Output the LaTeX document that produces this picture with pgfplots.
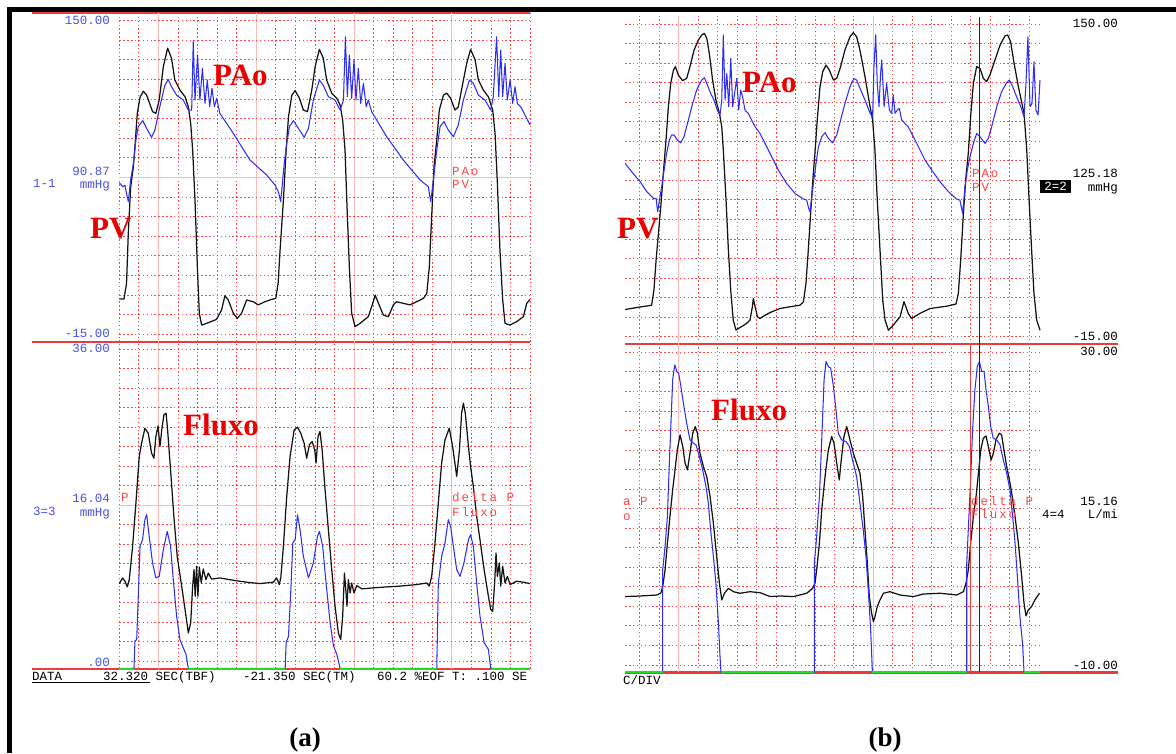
\documentclass[border=0pt]{standalone}
\usepackage{fontspec}
\setmainfont{Liberation Serif}
\setmonofont{Liberation Mono}
\newfontfamily\lcd{Liberation Mono}
\newfontfamily\redlcd[LetterSpace=15]{Liberation Mono}
\usepackage{pgfplots}
\pgfplotsset{compat=1.18}

\definecolor{gridred}{RGB}{255,70,70}
\definecolor{gridpink}{RGB}{255,185,185}
\definecolor{framered}{RGB}{235,60,60}
\definecolor{tracegreen}{RGB}{40,215,40}
\definecolor{traceblue}{RGB}{45,45,245}
\definecolor{labelblue}{RGB}{70,80,235}
\definecolor{bigred}{RGB}{235,0,0}

\pgfplotsset{
  osc/.style={
    scale only axis,
    anchor=south west,
    axis line style={draw=none},
    clip=false,
    grid=both,
    major tick length=0pt, minor tick length=0pt,
    xticklabels={}, yticklabels={},
    major grid style={line width=0.9pt, color=gridpink},
    minor grid style={line width=0.8pt, color=gridred, dash pattern=on 1.5pt off 2.4pt},
  },
  pv/.style={black!92, line width=1.25pt, line join=round},
  ao/.style={traceblue, line width=1.05pt, line join=round},
  zero/.style={tracegreen, line width=2.2pt},
}

\begin{document}
\begin{tikzpicture}
\useasboundingbox (0pt,0pt) rectangle (1176pt,753pt);

% frame
\fill[black] (7pt,741.3pt) rectangle (1176pt,745.7pt);
\fill[black] (7.3pt,0pt) rectangle (11.7pt,745.7pt);

% red frame lines
\draw[framered, line width=2pt] (32pt,740pt) -- (530pt,740pt);
\draw[framered, line width=2pt] (32pt,411pt) -- (530pt,411pt);
\draw[framered, line width=2.5pt] (32pt,84pt) -- (530pt,84pt);
\draw[framered, line width=2pt] (625pt,408.5pt) -- (1118pt,408.5pt);
\draw[framered, line width=2.5pt] (625pt,80.7pt) -- (1118pt,80.7pt);

% ---------- (a) pressure ----------
\begin{axis}[osc, at={(119.3pt,411.06pt)}, width=410.76pt, height=328.9pt,
  xmin=0, xmax=21, ymin=-0.39, ymax=16.39,
  xtick={2,7,12,17}, minor xtick={0,1,3,4,5,6,8,9,10,11,13,14,15,16,18,19,20,21},
  ytick={8}, minor ytick={0,1,2,3,4,5,6,7,9,10,11,12,13,14,15,16}]
\addplot[pv] coordinates {
(0,1.8) (0.24,1.8) (0.37,2.6) (0.46,5.15) (0.58,7.5) (0.72,8.55) (0.8,9.57) (0.92,11.27) (1.06,12.1) (1.23,12.4) (1.4,12.2) (1.7,11.36) (1.87,11.27) (2.04,11.95) (2.25,13.65) (2.47,14.6) (2.67,14.08) (2.84,12.97) (3.1,12.46) (3.36,12.12) (3.53,11.6) (3.65,10.76) (3.75,9.4) (3.87,6.85) (3.99,3.45) (4.09,1.07) (4.21,0.47) (4.47,0.56) (4.97,0.76) (5.23,1.24) (5.4,1.97) (5.57,1.75) (5.83,1.07) (6.03,0.81) (6.25,1.07) (6.51,1.75) (6.85,1.66) (7.1,1.5) (7.44,1.66) (7.78,1.78) (8.0,1.83) (8.12,2.6) (8.22,4.3) (8.39,6.85) (8.53,9.4) (8.65,11.1) (8.82,12.2) (8.99,12.43) (9.21,12.04) (9.41,11.44) (9.62,11.36) (9.84,12.46) (10.01,13.65) (10.23,14.54) (10.43,14.08) (10.6,12.97) (10.86,12.3) (11.12,12.04) (11.29,11.7) (11.42,10.93) (11.54,9.4) (11.63,6.85) (11.76,3.45) (11.88,1.07) (12.05,0.39) (12.31,0.56) (12.73,0.9) (12.96,1.58) (13.08,2.0) (13.25,1.58) (13.5,0.98) (13.76,0.9) (14.01,1.5) (14.18,1.66) (14.52,1.58) (14.86,1.5) (15.2,1.66) (15.55,1.83) (15.72,2.09) (15.85,3.45) (15.97,6.0) (16.09,8.55) (16.23,9.91) (16.36,11.44) (16.57,12.2) (16.74,12.3) (16.94,12.04) (17.16,11.44) (17.33,11.6) (17.56,12.8) (17.76,13.82) (17.96,14.54) (18.19,14.0) (18.36,12.97) (18.61,12.46) (18.87,12.12) (19.09,11.44) (19.21,10.25) (19.33,7.7) (19.46,4.3) (19.6,1.75) (19.72,0.56) (19.97,0.47) (20.31,0.64) (20.66,0.9) (20.83,1.58) (21.0,1.78)};
\addplot[ao] coordinates {
(0,7.74) (0.17,7.53) (0.29,7.6) (0.37,7.19) (0.46,6.77) (0.58,7.87) (0.72,8.72) (0.85,9.9) (0.97,10.6) (1.2,10.9) (1.4,10.5) (1.65,10.05) (1.82,10.42) (2.07,11.6) (2.33,12.7) (2.5,13.0) (2.67,12.63) (2.93,12.2) (3.27,11.95) (3.53,11.44) (3.70,11.44) (3.78,14.93) (3.87,11.95) (4.0,14.25) (4.12,11.95) (4.25,13.57) (4.38,11.78) (4.5,12.97) (4.62,11.61) (4.74,12.55) (4.86,11.61) (4.98,12.04) (5.14,11.27) (5.49,10.76) (5.83,10.25) (6.68,8.89) (7.53,8.13) (7.96,7.62) (8.13,7.28) (8.25,6.77) (8.33,7.6) (8.42,8.6) (8.56,9.74) (8.7,10.6) (8.9,10.9) (9.16,10.5) (9.45,10.05) (9.67,10.5) (9.92,11.95) (10.23,12.97) (10.43,12.7) (10.69,12.12) (11.03,11.95) (11.29,11.44) (11.46,11.95) (11.56,15.18) (11.66,12.12) (11.76,14.25) (11.88,12.04) (12.0,13.99) (12.1,11.95) (12.22,13.57) (12.34,11.78) (12.48,12.8) (12.62,11.61) (12.73,11.95) (12.9,11.36) (13.16,10.93) (13.67,10.08) (14.52,8.89) (15.38,7.87) (15.8,7.53) (15.92,6.77) (16.06,7.87) (16.23,9.4) (16.4,10.6) (16.6,10.85) (16.82,10.42) (17.08,10.08) (17.33,10.68) (17.59,11.95) (17.9,12.97) (18.1,12.8) (18.36,12.2) (18.7,11.95) (18.99,11.44) (19.12,12.12) (19.29,15.18) (19.4,12.12) (19.5,14.5) (19.6,12.12) (19.72,13.82) (19.84,11.95) (19.98,12.97) (20.11,11.78) (20.23,12.63) (20.35,11.78) (20.52,11.61) (20.74,11.19) (21.0,10.68)};
\end{axis}

% ---------- (a) flow ----------
\begin{axis}[osc, at={(119.3pt,84pt)}, width=410.76pt, height=327pt,
  xmin=0, xmax=21, ymin=-0.41, ymax=16.36,
  xtick={2,7,12,17}, minor xtick={0,1,3,4,5,6,8,9,10,11,13,14,15,16,18,19,20,21},
  ytick={8}, minor ytick={0,1,2,3,4,5,6,7,9,10,11,12,13,14,15,16}]
\addplot[pv] coordinates {
(0,3.97) (0.17,4.26) (0.29,4.09) (0.41,3.8) (0.51,4.17) (0.68,5.88) (0.85,8.1) (1.02,10.49) (1.14,11.17) (1.31,11.94) (1.48,11.68) (1.65,10.66) (1.77,10.4) (1.87,11.51) (1.98,12.06) (2.08,11.0) (2.18,11.94) (2.28,12.62) (2.39,12.71) (2.47,11.85) (2.62,9.81) (2.79,7.42) (2.96,5.37) (3.19,3.83) (3.41,2.3) (3.53,1.44) (3.65,1.96) (3.75,3.83) (3.82,4.69) (3.88,3.32) (3.95,4.86) (4.02,3.32) (4.09,4.82) (4.19,4.0) (4.29,4.72) (4.43,4.17) (4.55,4.51) (4.72,4.2) (5.14,4.26) (5.83,4.14) (6.51,4.04) (7.19,3.97) (7.87,4.04) (8.04,4.26) (8.18,3.92) (8.26,4.3) (8.39,5.88) (8.56,8.44) (8.73,10.49) (8.94,11.85) (9.11,11.99) (9.28,11.68) (9.45,11.17) (9.58,10.4) (9.72,11.09) (9.86,11.26) (9.99,10.83) (10.06,10.15) (10.16,11.51) (10.26,11.77) (10.37,10.83) (10.52,8.78) (10.69,6.73) (10.86,4.69) (11.03,2.81) (11.2,1.44) (11.32,1.1) (11.42,2.3) (11.51,4.51) (11.58,3.66) (11.64,2.81) (11.71,4.17) (11.8,3.49) (11.88,4.0) (12.0,3.49) (12.14,3.87) (12.39,3.7) (12.99,3.75) (13.67,3.8) (14.35,3.84) (15.2,3.92) (15.72,4.0) (15.85,3.84) (15.97,4.34) (16.14,6.05) (16.31,8.1) (16.48,10.15) (16.65,11.34) (16.87,11.94) (17.04,11.0) (17.25,9.47) (17.39,10.83) (17.5,12.71) (17.59,13.22) (17.69,12.71) (17.85,11.0) (17.96,9.98) (18.1,8.95) (18.27,7.42) (18.44,6.22) (18.65,4.69) (18.87,3.32) (18.99,2.64) (19.09,2.55) (19.19,4.0) (19.26,5.54) (19.33,4.34) (19.43,5.03) (19.5,3.84) (19.6,4.86) (19.72,4.0) (19.84,4.34) (19.98,3.92) (20.31,4.09) (20.66,4.04) (21.0,3.97)};
\addplot[ao] coordinates {
(0,-0.38) (0.75,-0.38) (0.8,1.02) (0.89,1.1) (0.97,3.32) (1.06,5.88) (1.19,6.22) (1.31,7.25) (1.4,7.5) (1.53,6.39) (1.7,5.03) (1.87,4.26) (2.04,4.34) (2.25,5.71) (2.45,6.65) (2.62,5.88) (2.76,4.17) (2.93,2.3) (3.1,1.1) (3.27,0.68) (3.41,0.34) (3.53,-0.38) (8.48,-0.38) (8.53,0.94) (8.65,1.27) (8.77,3.66) (8.87,6.05) (8.99,6.22) (9.11,7.5) (9.24,6.73) (9.41,5.37) (9.67,4.26) (9.92,5.03) (10.13,6.39) (10.23,6.65) (10.4,5.88) (10.57,4.0) (10.78,1.96) (10.95,0.77) (11.12,0.34) (11.29,-0.38) (16.23,-0.38) (16.31,4.0) (16.48,5.37) (16.65,6.05) (16.82,7.25) (16.94,6.9) (17.08,5.88) (17.25,4.69) (17.42,4.34) (17.62,5.03) (17.85,6.22) (17.96,6.48) (18.1,5.88) (18.27,4.0) (18.44,2.3) (18.65,0.94) (18.87,0.6) (18.99,-0.38) (21,-0.38)};
\addplot[zero] coordinates {(0,-0.41) (0.75,-0.41)};
\addplot[zero] coordinates {(3.53,-0.41) (8.48,-0.41)};
\addplot[zero] coordinates {(11.29,-0.41) (16.23,-0.41)};
\addplot[zero] coordinates {(18.99,-0.41) (21,-0.41)};
\end{axis}

% ---------- (b) pressure ----------
\begin{axis}[osc, at={(625.1pt,408.7pt)}, width=414.9pt, height=328.1pt,
  xmin=-0.74, xmax=20.55, ymin=-0.39, ymax=16.4,
  xtick={2,12}, minor xtick={0,1,3,4,5,6,7,8,9,10,11,13,14,15,16,17,18,19,20},
  ytick={8}, minor ytick={0,1,2,3,4,5,6,7,9,10,11,12,13,14,15,16},
  major y grid style={line width=0.8pt, color=gridred, dash pattern=on 1.5pt off 2.4pt}]
\addplot[pv] coordinates {
(-0.74,1.39) (-0.15,1.49) (0.62,1.61) (0.74,2.38) (0.85,3.92) (0.97,5.28) (1.09,6.65) (1.22,8.35) (1.36,10.06) (1.48,11.77) (1.6,12.96) (1.74,13.64) (1.84,13.82) (1.99,13.39) (2.21,13.1) (2.42,13.22) (2.59,13.82) (2.8,14.67) (3.02,15.18) (3.19,15.44) (3.33,15.52) (3.45,15.27) (3.58,14.5) (3.75,13.13) (3.92,12.11) (4.1,11.43) (4.22,10.74) (4.3,9.55) (4.44,6.99) (4.56,4.43) (4.68,2.38) (4.81,0.85) (4.95,0.34) (5.16,0.47) (5.5,0.68) (5.67,0.85) (5.79,1.53) (5.84,1.96) (5.93,1.53) (6.05,1.02) (6.18,0.93) (6.44,1.1) (6.78,1.27) (7.21,1.44) (7.72,1.53) (8.23,1.61) (8.41,1.78) (8.54,2.72) (8.66,4.43) (8.78,6.31) (8.88,7.84) (9.0,9.38) (9.12,11.09) (9.26,12.79) (9.4,13.56) (9.57,13.9) (9.74,13.64) (9.95,13.13) (10.12,13.22) (10.32,13.82) (10.54,14.67) (10.8,15.35) (10.97,15.56) (11.14,15.35) (11.31,14.67) (11.57,13.3) (11.83,11.77) (11.96,11.09) (12.08,9.55) (12.2,6.99) (12.34,4.43) (12.48,1.87) (12.6,0.85) (12.77,0.33) (13.02,0.59) (13.37,1.02) (13.57,1.79) (13.79,1.19) (13.96,0.93) (14.39,1.19) (14.9,1.44) (15.76,1.56) (16.24,1.67) (16.36,2.21) (16.48,3.92) (16.62,6.31) (16.75,8.18) (16.87,9.38) (16.99,11.26) (17.13,12.96) (17.3,13.82) (17.47,13.73) (17.64,13.22) (17.81,13.05) (17.98,13.39) (18.24,14.16) (18.5,14.92) (18.75,15.39) (18.89,15.44) (19.04,15.1) (19.22,13.99) (19.44,12.79) (19.73,11.43) (19.87,9.55) (19.99,6.99) (20.12,4.43) (20.24,2.21) (20.38,0.85) (20.55,0.33)};
\addplot[ao] coordinates {
(-0.74,8.87) (-0.4,8.44) (0.03,7.93) (0.37,7.42) (0.71,7.08) (0.85,7.08) (0.93,6.39) (1.02,6.99) (1.14,7.67) (1.26,8.53) (1.39,9.38) (1.53,10.06) (1.65,10.32) (1.77,10.32) (1.94,10.06) (2.11,9.92) (2.28,10.23) (2.46,10.91) (2.68,11.77) (2.93,12.62) (3.19,13.13) (3.33,13.25) (3.48,12.88) (3.65,12.45) (3.82,12.11) (3.99,11.6) (4.13,11.34) (4.22,12.11) (4.3,15.44) (4.39,12.11) (4.48,13.47) (4.58,11.77) (4.68,14.24) (4.78,11.77) (4.88,12.45) (4.99,13.22) (5.09,11.6) (5.19,12.62) (5.29,12.28) (5.41,11.6) (5.58,11.43) (5.75,11.09) (5.93,10.74) (6.18,10.4) (6.44,9.89) (6.78,9.21) (7.12,8.53) (7.55,7.84) (7.98,7.33) (8.41,7.04) (8.58,6.99) (8.68,6.56) (8.75,6.39) (8.84,7.16) (8.92,7.84) (9.06,8.87) (9.18,9.72) (9.35,10.23) (9.52,10.44) (9.69,10.15) (9.91,9.92) (10.12,10.32) (10.32,11.09) (10.54,11.94) (10.8,12.79) (11.0,13.22) (11.14,13.13) (11.35,12.62) (11.57,12.11) (11.83,11.43) (11.96,11.26) (12.03,13.82) (12.12,15.44) (12.2,12.96) (12.29,11.77) (12.37,13.47) (12.43,14.16) (12.55,11.77) (12.68,12.96) (12.82,11.6) (12.94,11.43) (13.02,12.37) (13.11,11.43) (13.23,11.6) (13.33,11.68) (13.45,11.09) (13.62,10.91) (13.79,10.74) (14.05,10.23) (14.31,9.72) (14.65,9.04) (14.99,8.53) (15.42,7.93) (15.85,7.42) (16.27,7.04) (16.44,6.99) (16.58,6.31) (16.7,7.67) (16.82,8.53) (16.96,9.21) (17.13,9.89) (17.3,10.4) (17.47,10.23) (17.73,9.89) (17.9,10.15) (18.07,10.74) (18.33,11.77) (18.58,12.54) (18.84,13.0) (18.98,13.13) (19.15,12.79) (19.35,12.28) (19.56,11.77) (19.73,11.26) (19.83,12.96) (19.93,15.35) (20.04,11.77) (20.14,11.94) (20.24,14.07) (20.34,11.6) (20.45,11.34) (20.55,13.13)};
\end{axis}

% ---------- (b) flow ----------
\begin{axis}[osc, at={(625.1pt,80.7pt)}, width=414.9pt, height=327.8pt,
  xmin=-0.74, xmax=20.55, ymin=-0.375, ymax=16.4,
  xtick={2,12}, minor xtick={0,1,3,4,5,6,7,8,9,10,11,13,14,15,16,17,18,19,20},
  ytick={8}, minor ytick={0,1,2,3,4,5,6,7,9,10,11,12,13,14,15,16},
  major y grid style={line width=0.8pt, color=gridred, dash pattern=on 1.5pt off 2.4pt}]
\addplot[pv] coordinates {
(-0.74,3.5) (0.03,3.53) (0.88,3.58) (1.09,3.67) (1.19,4.01) (1.31,4.86) (1.43,6.23) (1.56,7.59) (1.7,8.96) (1.82,9.98) (1.94,11.01) (2.08,11.77) (2.22,11.18) (2.34,10.32) (2.46,9.98) (2.59,10.84) (2.73,11.86) (2.86,12.2) (2.97,11.86) (3.1,10.84) (3.28,10.15) (3.45,9.64) (3.62,8.62) (3.79,7.25) (3.96,5.55) (4.1,4.18) (4.22,3.33) (4.36,3.67) (4.56,3.92) (4.82,3.75) (5.16,3.67) (5.67,3.75) (6.18,3.7) (6.7,3.5) (7.21,3.53) (7.89,3.5) (8.58,3.67) (8.88,3.92) (9.0,4.18) (9.09,4.86) (9.23,6.23) (9.35,7.94) (9.52,9.64) (9.69,11.01) (9.86,11.69) (9.98,11.35) (10.12,10.32) (10.25,9.47) (10.37,10.67) (10.49,11.69) (10.63,12.2) (10.8,11.52) (10.97,10.84) (11.14,10.32) (11.31,9.81) (11.45,8.62) (11.57,6.91) (11.69,5.2) (11.79,3.5) (11.91,2.65) (12.0,2.22) (12.08,2.47) (12.2,2.99) (12.34,3.33) (12.51,3.67) (12.85,3.75) (13.37,3.58) (14.05,3.5) (14.56,3.63) (15.42,3.67) (16.27,3.58) (16.62,3.75) (16.75,4.18) (16.87,4.86) (16.99,6.23) (17.13,7.59) (17.27,8.62) (17.39,9.81) (17.51,11.01) (17.64,11.6) (17.78,11.72) (17.9,11.18) (18.04,10.49) (18.16,10.84) (18.29,11.52) (18.46,11.86) (18.58,11.77) (18.7,11.01) (18.84,10.15) (18.98,9.47) (19.1,8.79) (19.27,7.59) (19.44,6.23) (19.61,4.52) (19.73,3.16) (19.83,2.51) (19.95,2.82) (20.12,2.99) (20.29,3.33) (20.52,3.67)};
\addplot[ao] coordinates {
(-0.74,-0.375) (1.19,-0.375) (1.19,4.86) (1.31,6.06) (1.43,7.59) (1.53,10.32) (1.6,12.03) (1.7,14.59) (1.81,15.36) (1.91,15.02) (2.01,14.93) (2.11,14.33) (2.25,13.4) (2.42,12.37) (2.59,11.52) (2.76,11.35) (2.9,11.26) (3.07,10.67) (3.24,9.98) (3.41,9.13) (3.53,8.28) (3.65,6.91) (3.79,5.55) (3.92,4.18) (4.05,2.13) (4.13,0.43) (4.18,-0.375) (8.97,-0.375) (8.97,5.2) (9.09,6.57) (9.23,8.62) (9.35,11.52) (9.47,14.59) (9.57,15.53) (9.69,15.27) (9.81,15.19) (9.95,14.25) (10.08,13.05) (10.2,11.86) (10.37,11.52) (10.6,11.43) (10.77,11.18) (10.97,10.32) (11.14,9.64) (11.31,8.28) (11.48,6.91) (11.62,5.55) (11.74,3.84) (11.86,1.79) (11.95,-0.375) (16.79,-0.375) (16.79,5.2) (16.87,6.91) (16.99,9.47) (17.09,12.03) (17.21,14.08) (17.33,15.27) (17.44,15.53) (17.56,15.02) (17.68,15.02) (17.78,14.08) (17.9,13.23) (18.02,12.2) (18.15,11.6) (18.33,11.52) (18.5,11.26) (18.67,10.49) (18.84,9.81) (19.01,8.96) (19.15,7.59) (19.27,6.23) (19.39,4.52) (19.52,2.47) (19.66,1.02) (19.73,-0.375) (20.55,-0.375)};
\addplot[zero] coordinates {(-0.74,-0.375) (1.19,-0.375)};
\addplot[zero] coordinates {(4.18,-0.375) (8.97,-0.375)};
\addplot[zero] coordinates {(11.95,-0.375) (16.79,-0.375)};
\addplot[zero] coordinates {(19.73,-0.375) (20.55,-0.375)};
\end{axis}

% cursors in (b)
\draw[framered, line width=1pt] (970.7pt,408.5pt) -- (970.7pt,80.7pt);
\draw[black!85, line width=1.1pt] (979.3pt,736pt) -- (979.3pt,80.7pt);

\begin{scope}[x=1pt, y=1pt]
% ---------- labels (a) ----------
\begin{scope}[every node/.style={inner sep=0pt, font=\lcd\fontsize{12.5}{12.5}\selectfont, text=labelblue}]
\node[anchor=base east] at (110,728.5) {150.00};
\node[anchor=base east] at (110,577) {90.87};
\node[anchor=base west] at (33,565) {1-1};
\node[anchor=base east] at (110,564) {mmHg};
\node[anchor=base east] at (110,415) {-15.00};
\node[anchor=base east] at (110,400) {36.00};
\node[anchor=base east] at (110,250) {16.04};
\node[anchor=base west] at (33,237) {3=3};
\node[anchor=base east] at (110,236) {mmHg};
\node[anchor=base east] at (110,87) {.00};
\end{scope}
\begin{scope}[every node/.style={inner sep=0pt, anchor=base west, font=\redlcd\fontsize{12.5}{12.5}\selectfont, text=gridred}]
\node at (452,577) {PAo};
\node at (452,564) {PV};
\node at (121,251) {P};
\node at (452,251) {delta P};
\node at (452,236) {Fluxo};
\node at (972,575) {PAo};
\node at (972,561) {PV};
\node at (971,247) {delta P};
\node at (971,234) {Fluxo};
\node at (623,247) {a P};
\node at (623,232) {o};
\end{scope}
% status line
\begin{scope}[every node/.style={inner sep=0pt, anchor=base west, font=\lcd\fontsize{12.5}{12.5}\selectfont, text=black}]
\node at (32,73) {DATA};
\node at (103,73) {32.320 SEC(TBF)};
\node at (243,73) {-21.350 SEC(TM)};
\node at (377,73) {60.2 \%EOF T: .100 SE};
\node at (623,69) {C/DIV};
\end{scope}
\draw[black, line width=0.8pt] (32,70.5) -- (150,70.5);

% ---------- labels (b) ----------
\begin{scope}[every node/.style={inner sep=0pt, anchor=base east, font=\lcd\fontsize{12.5}{12.5}\selectfont, text=black}]
\node at (1118,725) {150.00};
\node at (1118,575) {125.18};
\node at (1118,561) {mmHg};
\node at (1118,412) {-15.00};
\node at (1118,397) {30.00};
\node at (1118,247) {15.16};
\node at (1118,234) {L/mi};
\node at (1118,84) {-10.00};
\node[anchor=base west] at (1042,234) {4=4};
\end{scope}
\fill[black] (1040,560) rectangle (1071,573);
\node[inner sep=0pt, font=\lcd\fontsize{12.5}{12.5}\selectfont, text=white] at (1055.5,566.5) {2=2};

% ---------- big labels ----------
\begin{scope}[every node/.style={inner sep=0pt, anchor=base west, font=\fontsize{31}{31}\selectfont\bfseries, text=bigred}]
\node at (213,667) {PAo};
\node at (90,514) {PV};
\node at (183,317) {Fluxo};
\node at (742,660) {PAo};
\node at (617,514) {PV};
\node at (711,332) {Fluxo};
\end{scope}
\node[inner sep=0pt, anchor=base, font=\fontsize{27}{27}\selectfont\bfseries] at (305,6.4) {(a)};
\node[inner sep=0pt, anchor=base, font=\fontsize{27}{27}\selectfont\bfseries] at (885,6.4) {(b)};
\end{scope}
\end{tikzpicture}
\end{document}
